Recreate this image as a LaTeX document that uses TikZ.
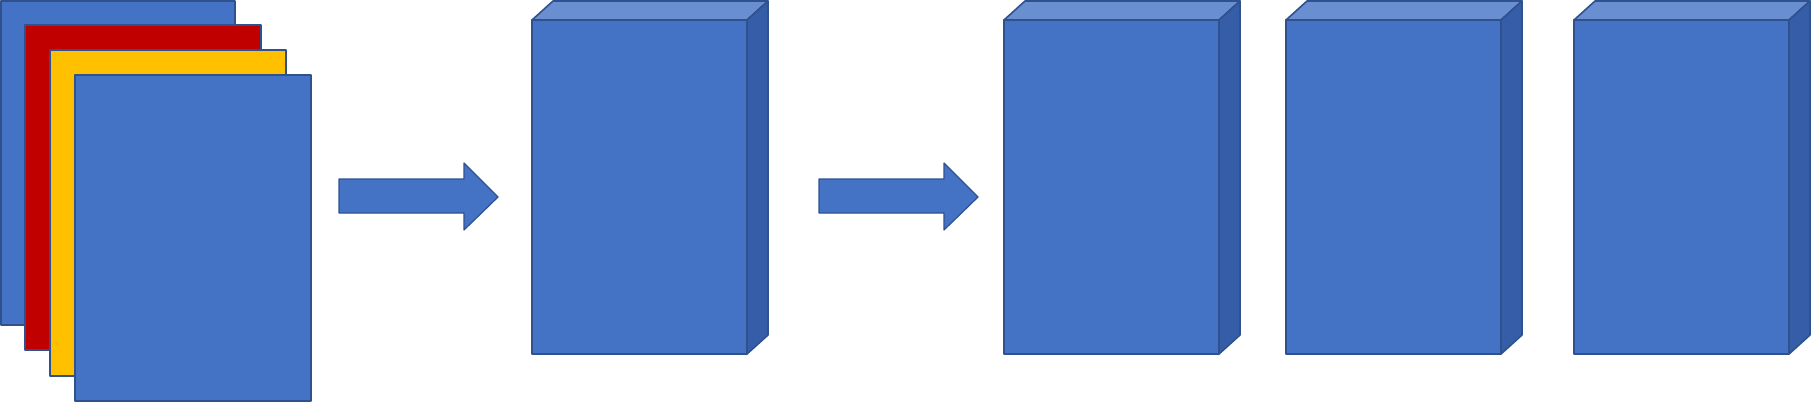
\documentclass[tikz,border=0pt]{standalone}
\definecolor{cfill}{HTML}{4472C4}
\definecolor{cline}{HTML}{2F528F}
\definecolor{ctop}{HTML}{6A8FD0}
\definecolor{cside}{HTML}{365EA8}
\definecolor{cred}{HTML}{C00000}
\definecolor{cyel}{HTML}{FFC000}
\tikzset{
  shp/.style={draw=cline, line width=1.6pt, line join=round},
  sheet/.style={shp, fill=cfill},
}
\newcommand{\mycube}[2]{%
  \fill[cfill] (#1,20) rectangle (#1+215,354);
  \filldraw[shp, fill=ctop] (#1,20) -- (#1+21,1) -- (#1+236,1) -- (#1+215,20) -- cycle;
  \filldraw[shp, fill=cside] (#1+215,20) -- (#1+236,1) -- (#1+236,335) -- (#1+215,354) -- cycle;
  \draw[shp] (#1,20) rectangle (#1+215,354);
  \coordinate (#2) at (#1+107,187);
}
\newcommand{\myarrow}[1]{%
  \filldraw[shp, fill=cfill, line width=1.2pt] (#1,179) -- (#1+125,179) -- (#1+125,163) -- (#1+159,197) -- (#1+125,230) -- (#1+125,213) -- (#1,213) -- cycle;
}
\begin{document}
\begin{tikzpicture}[x=1pt,y=-1pt]
\useasboundingbox (0,0) rectangle (1811,402);
\fill[white] (0,0) rectangle (1811,402);
\filldraw[sheet] (1,1) rectangle (235,325);
\filldraw[shp, fill=cred] (25,25) rectangle (261,350);
\filldraw[shp, fill=cyel] (50,50) rectangle (286,376);
\filldraw[sheet] (75,75) rectangle (311,401);
\myarrow{339}
\mycube{532}{c1}
\myarrow{819}
\mycube{1004}{c2}
\mycube{1286}{c3}
\mycube{1574}{c4}
\end{tikzpicture}
\end{document}
